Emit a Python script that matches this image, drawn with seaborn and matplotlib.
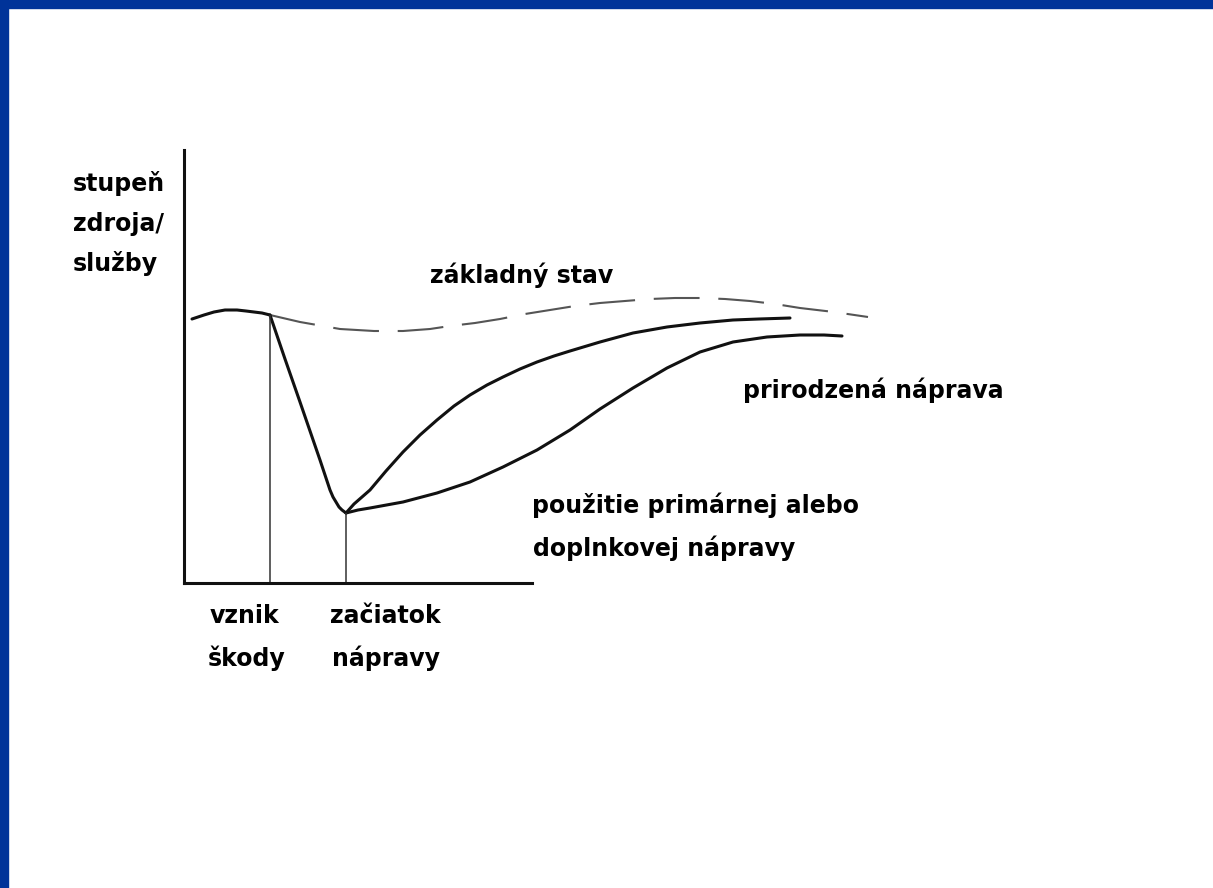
import numpy as np
import matplotlib
matplotlib.use('Agg')
import matplotlib.pyplot as plt
import seaborn as sns
from matplotlib.patches import Rectangle

# values (time on x, resource/service level on y)
base_t = [8, 20, 30, 41, 53, 62, 70, 78, 86]
base_lvl = [264, 268, 271, 273, 273, 272, 271, 270, 268]

baseline_t = [86, 116, 156, 190, 219, 246, 266, 291, 316, 341, 366, 391, 416, 441,
              466, 491, 516, 541, 566, 591, 616, 650, 684]
baseline_lvl = [268, 261, 254, 252, 252, 254, 257, 260, 264, 269, 273, 277, 280, 282,
                284, 285, 285, 284, 282, 279, 275, 271, 266]

damage_t = [86, 101, 116, 126, 136, 141, 146, 149, 152, 155, 158, 162]
damage_lvl = [268, 224, 181, 152, 123, 108, 93, 86, 81, 76, 73, 70]

fast_t = [162, 170, 186, 202, 219, 236, 253, 270, 286, 303, 319, 336, 353, 370, 386,
          416, 449, 483, 516, 549, 575, 606]
fast_lvl = [70, 79, 93, 112, 131, 148, 163, 177, 188, 198, 206, 214, 221, 227, 232,
            241, 250, 256, 260, 263, 264, 265]

slow_t = [162, 174, 186, 219, 253, 286, 319, 353, 386, 416, 449, 483, 516, 549, 583,
          616, 640, 658]
slow_lvl = [70, 73, 75, 81, 90, 101, 116, 133, 153, 174, 195, 215, 231, 241, 246,
            248, 248, 247]

damage_time = 86
remedy_time = 162

y_label = ['stupeň', 'zdroja/', 'služby']
labels = {
    'základný stav': (246, 300),
    'prirodzená náprava': (559, 185),
    'použitie primárnej alebo': (348, 70),
    'doplnkovej nápravy': (349, 27),
}

sns.set_style('white')
plt.rcParams['font.family'] = ['DejaVu Sans']

fig = plt.figure(figsize=(12.13, 8.88), dpi=100)
ax = fig.add_axes([0, 0, 1, 1])
ax.set_xlim(-184, 1029)
ax.set_ylim(-305, 583)

ink = '#111111'
sns.lineplot(x=base_t, y=base_lvl, sort=False, estimator=None, ax=ax, color=ink, lw=2.2)
sns.lineplot(x=baseline_t, y=baseline_lvl, sort=False, estimator=None, ax=ax,
             color='#555555', lw=1.5, linestyle=(0, (22, 9)))
sns.lineplot(x=damage_t, y=damage_lvl, sort=False, estimator=None, ax=ax, color=ink, lw=2.2)
sns.lineplot(x=fast_t, y=fast_lvl, sort=False, estimator=None, ax=ax, color=ink, lw=2.2)
sns.lineplot(x=slow_t, y=slow_lvl, sort=False, estimator=None, ax=ax, color=ink, lw=2.2)

ax.vlines([damage_time, remedy_time], 0, [damage_lvl[0], damage_lvl[-1]], color='#333333', lw=1.1)

# axes drawn as spines at the origin
for s in ['top', 'right']:
    ax.spines[s].set_visible(False)
ax.spines['left'].set_position(('data', 0))
ax.spines['bottom'].set_position(('data', 0))
ax.spines['left'].set_bounds(0, 433)
ax.spines['bottom'].set_bounds(0, 348)
for s in ['left', 'bottom']:
    ax.spines[s].set_linewidth(2.2)
    ax.spines[s].set_color(ink)
ax.set_xticks([])
ax.set_yticks([])
ax.set_xlabel('')
ax.set_ylabel('')

fs = 17
tk = dict(fontsize=fs, fontweight='bold', va='baseline', color='black')
for i, line in enumerate(y_label):
    ax.text(-111, 392 - i * 40, line, **tk)
for txt, (tx, ty) in labels.items():
    ax.text(tx, ty, txt, **tk)
ax.text(26, -40, 'vznik', **tk)
ax.text(24, -83, 'škody', **tk)
ax.text(146, -40, 'začiatok', **tk)
ax.text(148, -83, 'nápravy', **tk)

# slide frame: blue band on top and left
blue = '#003399'
fig.add_artist(Rectangle((0, 1 - 8 / 888), 1, 8 / 888, transform=fig.transFigure, color=blue, zorder=5))
fig.add_artist(Rectangle((0, 0), 8 / 1213, 1, transform=fig.transFigure, color=blue, zorder=5))

fig.savefig('out.png', dpi=100)
